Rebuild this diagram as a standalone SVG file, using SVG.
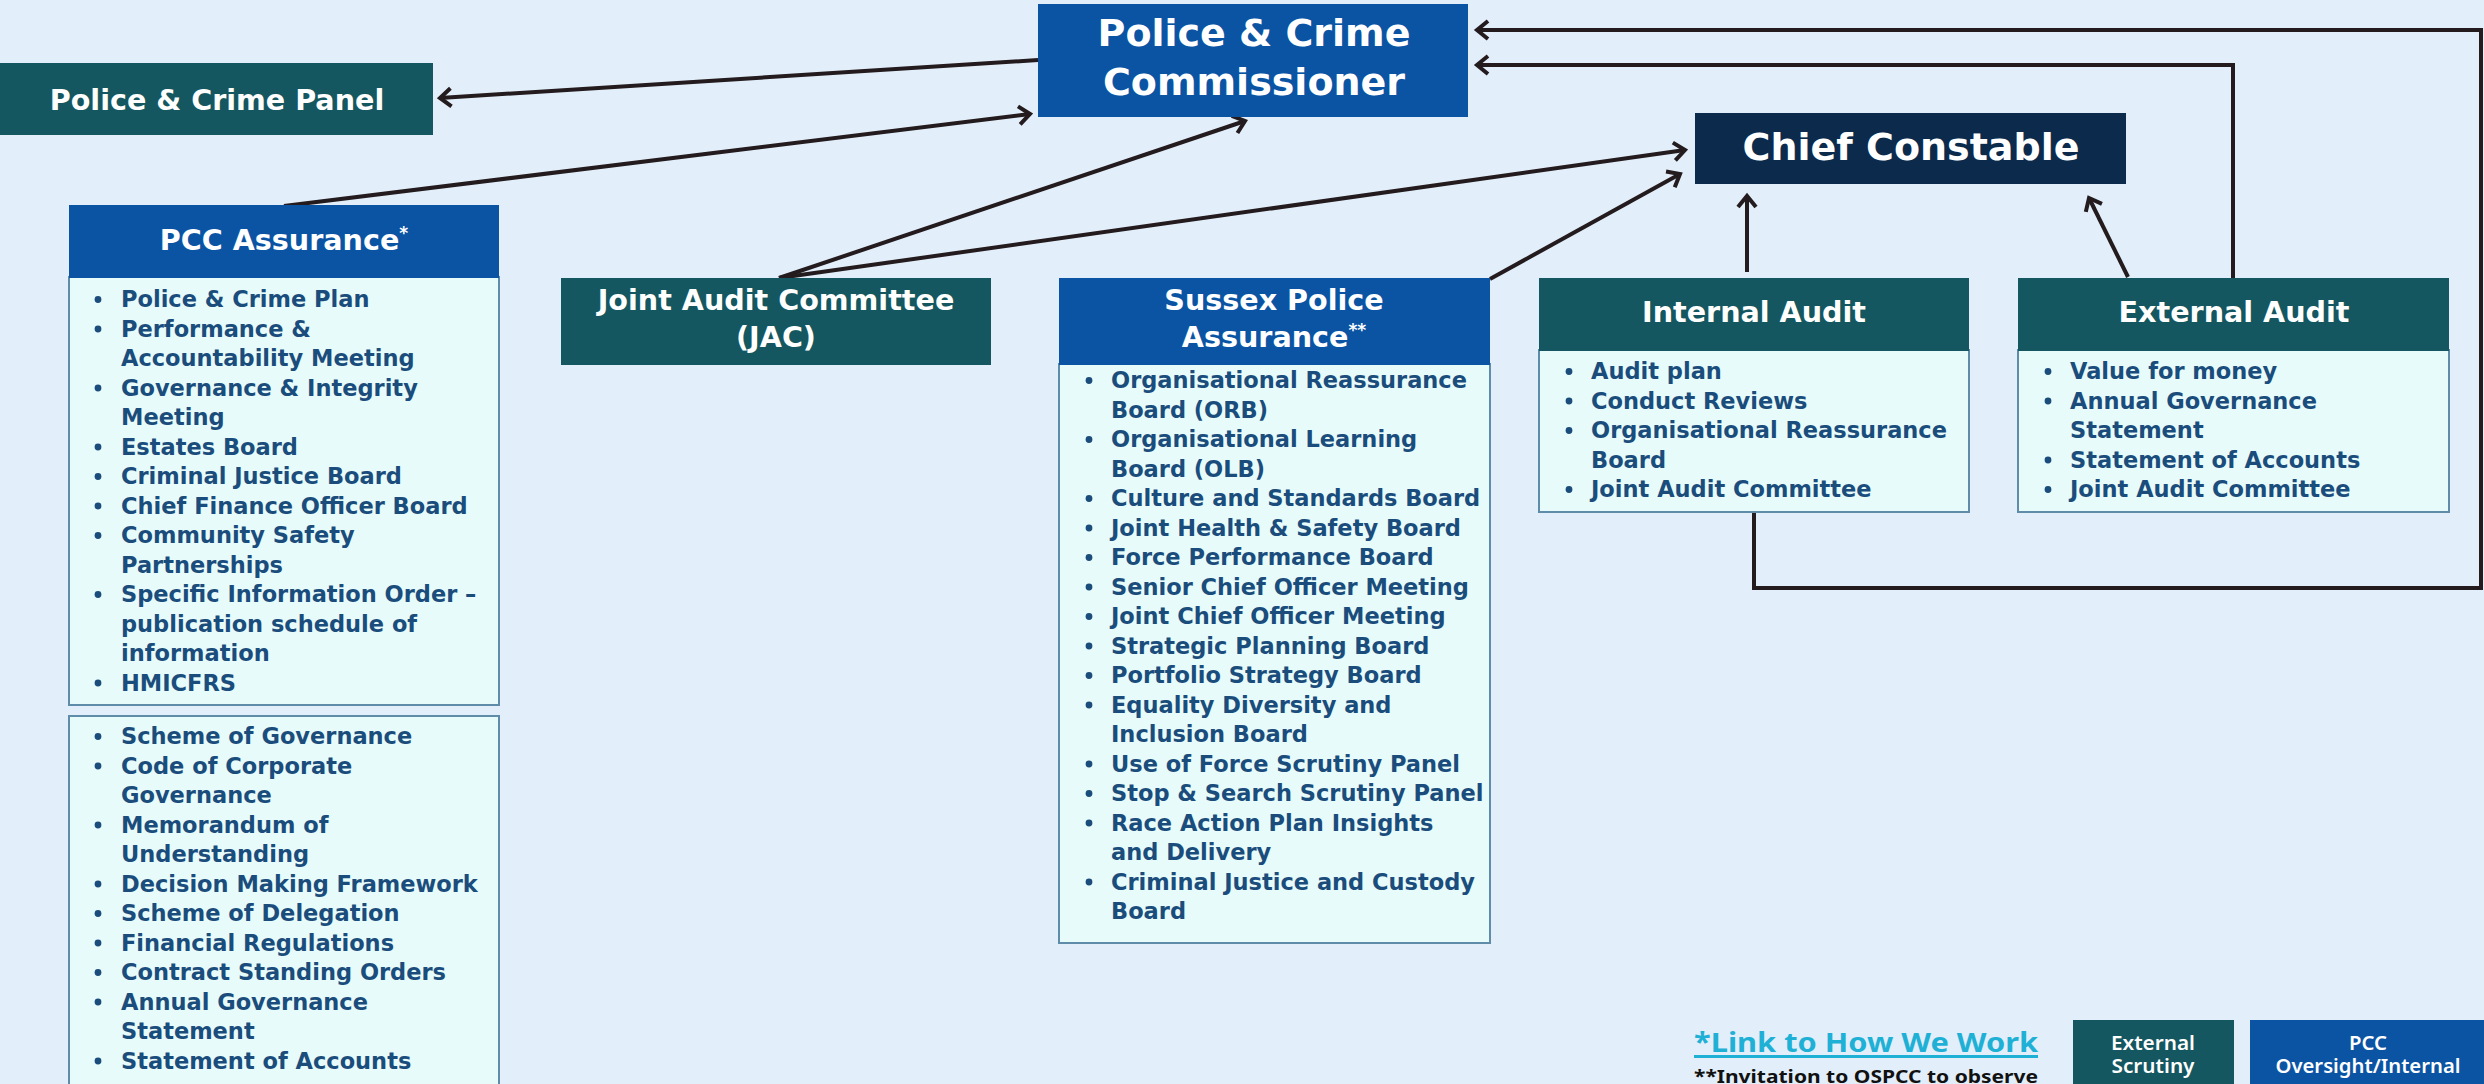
<svg xmlns="http://www.w3.org/2000/svg" width="2484" height="1084" viewBox="0 0 2484 1084">
  <style>
    .teal { fill: #145760; }
    .blue { fill: #0b54a4; }
    .navy { fill: #0b2a4c; }
    .list { fill: #e7fbfb; stroke: #5f8ca8; stroke-width: 2; }
    .hd { font-family: "DejaVu Sans", "Liberation Sans", sans-serif; font-weight: bold; fill: #ffffff; text-anchor: middle; }
    .big { font-size: 38px; }
    .mid { font-size: 28.6px; }
    .sup { font-size: 17px; }
    .li { font-family: "DejaVu Sans", "Liberation Sans", sans-serif; font-weight: bold; font-size: 22.5px; fill: #1b4d7c; }
    .dot { fill: #1b4d7c; }
    .conn { fill: none; stroke: #231b1d; stroke-width: 4; }
    .lg { font-family: "Noto Sans", "Liberation Sans", sans-serif; font-weight: 600; }
    .key { font-family: "Noto Sans", "Liberation Sans", sans-serif; font-weight: 600; font-size: 19px; fill: #ffffff; text-anchor: middle; }
  </style>
  <defs>
    <marker id="arrow" viewBox="-14 -12 20 24" refX="0" refY="0" markerWidth="20" markerHeight="24" markerUnits="userSpaceOnUse" orient="auto">
      <path d="M-11,-9 L0,0 L-11,9" fill="none" stroke="#231b1d" stroke-width="4" stroke-linejoin="miter"/>
    </marker>
  </defs>

  <rect x="0" y="0" width="2484" height="1084" fill="#e2eef9"/>

  <!-- connectors -->
  <g id="connectors">
    <line class="conn" x1="1038" y1="60" x2="440" y2="98" marker-end="url(#arrow)"/>
    <line class="conn" x1="284" y1="206" x2="1030" y2="114" marker-end="url(#arrow)"/>
    <line class="conn" x1="779" y1="278" x2="1245" y2="121" marker-end="url(#arrow)"/>
    <line class="conn" x1="779" y1="278" x2="1685" y2="150" marker-end="url(#arrow)"/>
    <line class="conn" x1="1490" y1="279" x2="1680" y2="174" marker-end="url(#arrow)"/>
    <line class="conn" x1="1747" y1="272" x2="1747" y2="196" marker-end="url(#arrow)"/>
    <line class="conn" x1="2128" y1="277" x2="2089" y2="198" marker-end="url(#arrow)"/>
    <path class="conn" d="M2233,278 V65 H1477" marker-end="url(#arrow)"/>
    <path class="conn" d="M1754,512 V588 H2481 V30 H1477" marker-end="url(#arrow)"/>
  </g>

  <!-- Police & Crime Commissioner -->
  <g id="pcc">
    <rect class="blue" x="1038" y="4" width="430" height="113"/>
    <text class="hd big" x="1254" y="46">Police &amp; Crime</text>
    <text class="hd big" x="1254" y="95">Commissioner</text>
  </g>

  <!-- Police & Crime Panel -->
  <g id="panel">
    <rect class="teal" x="0" y="63" width="433" height="72"/>
    <text class="hd mid" x="217" y="110">Police &amp; Crime Panel</text>
  </g>

  <!-- Chief Constable -->
  <g id="chief-constable">
    <rect class="navy" x="1695" y="113" width="431" height="71"/>
    <text class="hd big" x="1911" y="160">Chief Constable</text>
  </g>

  <!-- PCC Assurance -->
  <g id="pcc-assurance">
    <rect class="list" x="69" y="277" width="430" height="428"/>
    <rect class="blue" x="69" y="205" width="430" height="73"/>
    <text class="hd mid" x="284" y="250">PCC Assurance<tspan class="sup" dy="-11">*</tspan></text>
    <g class="dots">
      <circle class="dot" cx="98" cy="299.5" r="3.4"/>
      <circle class="dot" cx="98" cy="329" r="3.4"/>
      <circle class="dot" cx="98" cy="388" r="3.4"/>
      <circle class="dot" cx="98" cy="447" r="3.4"/>
      <circle class="dot" cx="98" cy="476.5" r="3.4"/>
      <circle class="dot" cx="98" cy="506" r="3.4"/>
      <circle class="dot" cx="98" cy="535.5" r="3.4"/>
      <circle class="dot" cx="98" cy="594.5" r="3.4"/>
      <circle class="dot" cx="98" cy="683" r="3.4"/>
    </g>
    <text class="li" x="121" y="307">Police &amp; Crime Plan</text>
    <text class="li" x="121" y="336.5">Performance &amp;</text>
    <text class="li" x="121" y="366">Accountability Meeting</text>
    <text class="li" x="121" y="395.5">Governance &amp; Integrity</text>
    <text class="li" x="121" y="425">Meeting</text>
    <text class="li" x="121" y="454.5">Estates Board</text>
    <text class="li" x="121" y="484">Criminal Justice Board</text>
    <text class="li" x="121" y="513.5">Chief Finance Officer Board</text>
    <text class="li" x="121" y="543">Community Safety</text>
    <text class="li" x="121" y="572.5">Partnerships</text>
    <text class="li" x="121" y="602">Specific Information Order –</text>
    <text class="li" x="121" y="631.5">publication schedule of</text>
    <text class="li" x="121" y="661">information</text>
    <text class="li" x="121" y="690.5">HMICFRS</text>
  </g>

  <!-- Governance documents -->
  <g id="governance-documents">
    <rect class="list" x="69" y="716" width="430" height="380"/>
    <g class="dots">
      <circle class="dot" cx="98" cy="736.5" r="3.4"/>
      <circle class="dot" cx="98" cy="766" r="3.4"/>
      <circle class="dot" cx="98" cy="825" r="3.4"/>
      <circle class="dot" cx="98" cy="884" r="3.4"/>
      <circle class="dot" cx="98" cy="913.5" r="3.4"/>
      <circle class="dot" cx="98" cy="943" r="3.4"/>
      <circle class="dot" cx="98" cy="972.5" r="3.4"/>
      <circle class="dot" cx="98" cy="1002" r="3.4"/>
      <circle class="dot" cx="98" cy="1061" r="3.4"/>
    </g>
    <text class="li" x="121" y="744">Scheme of Governance</text>
    <text class="li" x="121" y="773.5">Code of Corporate</text>
    <text class="li" x="121" y="803">Governance</text>
    <text class="li" x="121" y="832.5">Memorandum of</text>
    <text class="li" x="121" y="862">Understanding</text>
    <text class="li" x="121" y="891.5">Decision Making Framework</text>
    <text class="li" x="121" y="921">Scheme of Delegation</text>
    <text class="li" x="121" y="950.5">Financial Regulations</text>
    <text class="li" x="121" y="980">Contract Standing Orders</text>
    <text class="li" x="121" y="1009.5">Annual Governance</text>
    <text class="li" x="121" y="1039">Statement</text>
    <text class="li" x="121" y="1068.5">Statement of Accounts</text>
  </g>

  <!-- Joint Audit Committee -->
  <g id="jac">
    <rect class="teal" x="561" y="278" width="430" height="87"/>
    <text class="hd mid" x="776" y="310">Joint Audit Committee</text>
    <text class="hd mid" x="776" y="347">(JAC)</text>
  </g>

  <!-- Sussex Police Assurance -->
  <g id="sussex-police-assurance">
    <rect class="list" x="1059" y="364" width="431" height="579"/>
    <rect class="blue" x="1059" y="278" width="431" height="87"/>
    <text class="hd mid" x="1274" y="310">Sussex Police</text>
    <text class="hd mid" x="1274" y="347">Assurance<tspan class="sup" dy="-11">**</tspan></text>
    <g class="dots">
      <circle class="dot" cx="1089" cy="380.5" r="3.4"/>
      <circle class="dot" cx="1089" cy="439.5" r="3.4"/>
      <circle class="dot" cx="1089" cy="498.5" r="3.4"/>
      <circle class="dot" cx="1089" cy="528" r="3.4"/>
      <circle class="dot" cx="1089" cy="557.5" r="3.4"/>
      <circle class="dot" cx="1089" cy="587" r="3.4"/>
      <circle class="dot" cx="1089" cy="616.5" r="3.4"/>
      <circle class="dot" cx="1089" cy="646" r="3.4"/>
      <circle class="dot" cx="1089" cy="675.5" r="3.4"/>
      <circle class="dot" cx="1089" cy="705" r="3.4"/>
      <circle class="dot" cx="1089" cy="764" r="3.4"/>
      <circle class="dot" cx="1089" cy="793.5" r="3.4"/>
      <circle class="dot" cx="1089" cy="823" r="3.4"/>
      <circle class="dot" cx="1089" cy="882" r="3.4"/>
    </g>
    <text class="li" x="1111" y="388">Organisational Reassurance</text>
    <text class="li" x="1111" y="417.5">Board (ORB)</text>
    <text class="li" x="1111" y="447">Organisational Learning</text>
    <text class="li" x="1111" y="476.5">Board (OLB)</text>
    <text class="li" x="1111" y="506">Culture and Standards Board</text>
    <text class="li" x="1111" y="535.5">Joint Health &amp; Safety Board</text>
    <text class="li" x="1111" y="565">Force Performance Board</text>
    <text class="li" x="1111" y="594.5">Senior Chief Officer Meeting</text>
    <text class="li" x="1111" y="624">Joint Chief Officer Meeting</text>
    <text class="li" x="1111" y="653.5">Strategic Planning Board</text>
    <text class="li" x="1111" y="683">Portfolio Strategy Board</text>
    <text class="li" x="1111" y="712.5">Equality Diversity and</text>
    <text class="li" x="1111" y="742">Inclusion Board</text>
    <text class="li" x="1111" y="771.5">Use of Force Scrutiny Panel</text>
    <text class="li" x="1111" y="801">Stop &amp; Search Scrutiny Panel</text>
    <text class="li" x="1111" y="830.5">Race Action Plan Insights</text>
    <text class="li" x="1111" y="860">and Delivery</text>
    <text class="li" x="1111" y="889.5">Criminal Justice and Custody</text>
    <text class="li" x="1111" y="919">Board</text>
  </g>

  <!-- Internal Audit -->
  <g id="internal-audit">
    <rect class="list" x="1539" y="350" width="430" height="162"/>
    <rect class="teal" x="1539" y="278" width="430" height="73"/>
    <text class="hd mid" x="1754" y="322">Internal Audit</text>
    <g class="dots">
      <circle class="dot" cx="1569" cy="371.5" r="3.4"/>
      <circle class="dot" cx="1569" cy="401" r="3.4"/>
      <circle class="dot" cx="1569" cy="430.5" r="3.4"/>
      <circle class="dot" cx="1569" cy="489.5" r="3.4"/>
    </g>
    <text class="li" x="1591" y="379">Audit plan</text>
    <text class="li" x="1591" y="408.5">Conduct Reviews</text>
    <text class="li" x="1591" y="438">Organisational Reassurance</text>
    <text class="li" x="1591" y="467.5">Board</text>
    <text class="li" x="1591" y="497">Joint Audit Committee</text>
  </g>

  <!-- External Audit -->
  <g id="external-audit">
    <rect class="list" x="2018" y="350" width="431" height="162"/>
    <rect class="teal" x="2018" y="278" width="431" height="73"/>
    <text class="hd mid" x="2234" y="322">External Audit</text>
    <g class="dots">
      <circle class="dot" cx="2048" cy="371.5" r="3.4"/>
      <circle class="dot" cx="2048" cy="401" r="3.4"/>
      <circle class="dot" cx="2048" cy="460" r="3.4"/>
      <circle class="dot" cx="2048" cy="489.5" r="3.4"/>
    </g>
    <text class="li" x="2070" y="379">Value for money</text>
    <text class="li" x="2070" y="408.5">Annual Governance</text>
    <text class="li" x="2070" y="438">Statement</text>
    <text class="li" x="2070" y="467.5">Statement of Accounts</text>
    <text class="li" x="2070" y="497">Joint Audit Committee</text>
  </g>

  <!-- key and notes -->
  <g id="notes">
    <text x="1694" y="1052" font-family="Noto Sans, Liberation Sans, sans-serif" font-weight="bold" font-size="26" fill="#1fb0d6" textLength="344" lengthAdjust="spacingAndGlyphs">*Link to How We Work</text>
    <rect x="1694" y="1055" width="344" height="3" fill="#1fb0d6"/>
    <text x="1694" y="1083" font-family="Noto Sans, Liberation Sans, sans-serif" font-weight="bold" font-size="18" fill="#111111" textLength="344" lengthAdjust="spacingAndGlyphs">**Invitation to OSPCC to observe</text>
  </g>
  <g id="key-external">
    <rect class="teal" x="2073" y="1020" width="161" height="70"/>
    <text class="key" x="2153" y="1050" textLength="84" lengthAdjust="spacingAndGlyphs">External</text>
    <text class="key" x="2153" y="1073" textLength="83" lengthAdjust="spacingAndGlyphs">Scrutiny</text>
  </g>
  <g id="key-pcc">
    <rect class="blue" x="2250" y="1020" width="240" height="70"/>
    <text class="key" x="2368" y="1050" textLength="38" lengthAdjust="spacingAndGlyphs">PCC</text>
    <text class="key" x="2368" y="1073" textLength="185" lengthAdjust="spacingAndGlyphs">Oversight/Internal</text>
  </g>
</svg>
